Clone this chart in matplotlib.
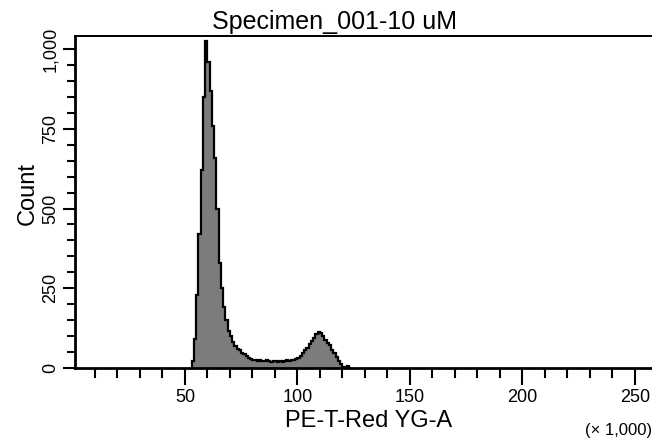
import numpy as np
import matplotlib
matplotlib.use("Agg")
import matplotlib.pyplot as plt
from matplotlib.ticker import MultipleLocator

plt.rcParams['font.family'] = ['Liberation Sans', 'DejaVu Sans']

# histogram counts, one bin per 1,000 units starting at 53
bin_start = 53
counts = [20, 90, 230, 420, 620, 850, 1026, 960, 870, 760,
          660, 500, 330, 250, 190, 150, 115, 100, 80, 68,
          58, 55, 48, 42, 36, 32, 28, 25, 24, 22,
          25, 22, 21, 23, 20, 19, 22, 20, 18, 21,
          19, 20, 24, 22, 23, 26, 28, 32, 38, 45,
          55, 62, 75, 85, 95, 105, 113, 108, 100, 88,
          78, 70, 55, 46, 35, 22, 12, 4, 0, 5, 0]

title = "Specimen_001-10 uM"
x_label = "PE-T-Red YG-A"
y_label = "Count"
x_ticks = [50, 100, 150, 200, 250]
y_ticks = [0, 250, 500, 750, 1000]
y_ticklabels = ["0", "250", "500", "750", "1,000"]

edges = bin_start + np.arange(len(counts) + 1)

fig = plt.figure(figsize=(6.52, 4.41), dpi=100)
ax = fig.add_axes([0.115, 0.166, 0.90, 0.752])

ax.stairs(counts, edges, fill=True, color='#7c7c7c', zorder=2)
ax.stairs(counts, edges, color='black', linewidth=1.6, zorder=3)

ax.set_xlim(1.1, 262)
ax.set_ylim(0, 1041)

ax.xaxis.set_major_locator(plt.FixedLocator(x_ticks))
ax.xaxis.set_minor_locator(MultipleLocator(10))
ax.set_yticks(y_ticks)
ax.set_yticklabels(y_ticklabels, rotation=90, va='center')
ax.yaxis.set_minor_locator(MultipleLocator(50))

# tick lengths in points (px * 0.72)
ax.tick_params(axis='both', which='major', direction='out', width=1.5,
               labelsize=13, color='black')
ax.tick_params(axis='x', which='major', length=12, pad=3)
ax.tick_params(axis='y', which='major', length=8.6, pad=3)
ax.tick_params(axis='x', which='minor', direction='out', width=1.5, length=7)
ax.tick_params(axis='y', which='minor', direction='out', width=1.5, length=5.8)

for s in ax.spines.values():
    s.set_linewidth(1.4)
ax.spines['left'].set_linewidth(2.0)
ax.spines['bottom'].set_linewidth(2.0)

ax.set_xlabel(x_label, fontsize=17)
ax.xaxis.set_label_coords(0.5, -0.127)
ax.set_ylabel(y_label, fontsize=17)
ax.yaxis.set_label_coords(-0.062, 0.527)
fig.text(335 / 652, 1 - 22 / 441, title, fontsize=18, ha='center', va='center')
fig.text(585 / 652, 1 - 431 / 441, "(\u00d7 1,000)", fontsize=12, ha='left', va='center')

fig.savefig("out.png", dpi=100)
